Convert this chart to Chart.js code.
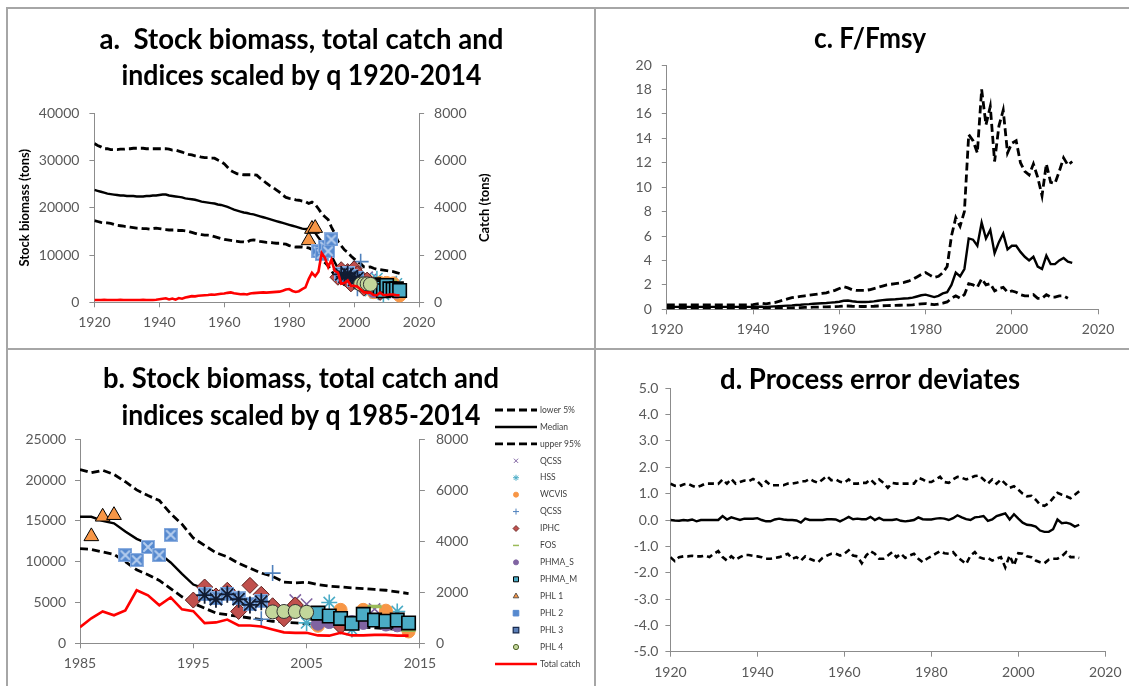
<!DOCTYPE html>
<html>
<head>
<meta charset="utf-8">
<script src="https://cdn.jsdelivr.net/npm/chart.js@4.4.1/dist/chart.umd.min.js"></script>
<style>
  html, body { margin: 0; padding: 0; background: #fff; }
  #page { position: relative; width: 1129px; height: 686px; overflow: hidden; background: #fff; }
  #page canvas { position: absolute; }
  .rule { position: absolute; background: #a6a6a6; }
</style>
</head>
<body>
<div id="page">
  <canvas id="panelA" width="595" height="349" style="left:0px;top:0px"></canvas>
  <canvas id="panelB" width="595" height="337" style="left:0px;top:349px"></canvas>
  <canvas id="panelC" width="534" height="349" style="left:595px;top:0px"></canvas>
  <canvas id="panelD" width="534" height="337" style="left:595px;top:349px"></canvas>
  <div class="rule" style="left:6px;top:7px;width:1123px;height:2px"></div>
  <div class="rule" style="left:6px;top:7px;width:2px;height:679px"></div>
  <div class="rule" style="left:594px;top:7px;width:2px;height:679px"></div>
  <div class="rule" style="left:6px;top:348px;width:1123px;height:2px"></div>
</div>
<script>
// ---------------- data ----------------
const YEARS = [
  1920,1921,1922,1923,1924,1925,1926,1927,1928,1929,
  1930,1931,1932,1933,1934,1935,1936,1937,1938,1939,
  1940,1941,1942,1943,1944,1945,1946,1947,1948,1949,
  1950,1951,1952,1953,1954,1955,1956,1957,1958,1959,
  1960,1961,1962,1963,1964,1965,1966,1967,1968,1969,
  1970,1971,1972,1973,1974,1975,1976,1977,1978,1979,
  1980,1981,1982,1983,1984,1985,1986,1987,1988,1989,
  1990,1991,1992,1993,1994,1995,1996,1997,1998,1999,
  2000,2001,2002,2003,2004,2005,2006,2007,2008,2009,
  2010,2011,2012,2013,2014
];

// Stock biomass (tons)
const BIOMASS_LOWER = [
  17300,17100,16900,16800,16800,16700,16500,16300,16200,16100,
  16000,15900,15800,15700,15700,15600,15600,15500,15600,15700,
  15600,15500,15400,15300,15300,15300,15200,15200,15100,15000,
  14800,14600,14400,14300,14200,14200,14100,13900,13700,13500,
  13300,13200,13100,13000,12900,12800,12800,12700,13100,13200,
  13100,12900,12800,12700,12700,12600,12500,12500,12400,12300,
  12000,11800,11700,11700,11700,11600,11500,11200,10900,10000,
  9000,8400,7700,6700,5700,4900,4300,3700,3500,3300,
  3100,2900,2700,2600,2500,2400,2300,2200,2100,2000,
  2000,1900,1800,1700,1600
];
const BIOMASS_MEDIAN = [
  23800,23600,23400,23200,23000,22900,22800,22700,22600,22600,
  22500,22500,22500,22400,22400,22400,22500,22500,22600,22600,
  22700,22800,22800,22600,22500,22400,22300,22200,22000,21900,
  21800,21700,21500,21300,21200,21100,21000,20900,20700,20600,
  20400,20200,19900,19600,19400,19200,19000,18900,18700,18600,
  18400,18200,18000,17800,17600,17400,17200,17000,16800,16600,
  16400,16200,16000,15800,15600,15500,15500,15000,14700,13700,
  12800,12200,11000,9900,8500,7200,6700,6300,5900,5500,
  5100,4800,4500,4200,4000,3800,3600,3400,3200,3000,
  2900,2800,2700,2600,2500
];
const BIOMASS_UPPER = [
  33600,33200,32900,32500,32500,32300,32300,32300,32400,32400,
  32500,32500,32600,32600,32600,32600,32500,32500,32500,32500,
  32500,32500,32500,32400,32200,32200,32000,31800,31500,31300,
  31200,31000,30900,30700,30600,30600,30500,30500,30100,29800,
  29300,28600,27900,27500,27200,27100,27000,27000,27000,27000,
  26900,26300,25800,25200,24700,24300,23800,23300,22700,22200,
  22000,21900,21700,21600,21400,21300,20900,21200,20700,19800,
  18800,18100,17500,15900,14600,12900,12000,11100,10600,9800,
  9200,8600,8200,7500,7400,7500,7200,7000,6900,6800,
  6700,6600,6500,6300,6100
];
// Total catch (tons)
const TOTAL_CATCH = [
  100,95,100,105,100,95,100,100,105,100,
  100,100,95,100,100,105,100,100,100,110,
  130,150,170,120,160,110,180,150,200,230,
  260,250,280,290,300,310,330,320,340,360,
  370,400,420,380,360,340,350,330,370,390,
  400,410,420,410,420,430,440,450,490,540,
  560,480,440,470,560,630,980,1250,1100,1290,
  2080,1880,1490,1800,1330,1260,790,820,930,700,
  700,660,540,430,410,410,310,300,410,310,
  310,330,330,300,300
];

// Abundance indices scaled by q (tons)
const QCSS_X_YEARS = [2004, 2005, 2011];
const QCSS_X = [5300, 4800, 4200];
const HSS_YEARS = [2005, 2007, 2009, 2013];
const HSS = [2500, 5000, 1700, 3900];
const WCVIS_YEARS = [2004, 2006, 2008, 2010, 2012, 2014];
const WCVIS = [4600, 2150, 4100, 4100, 4000, 1450];
const QCSS_P_YEARS = [2001, 2002];
const QCSS_P = [2950, 8600];
const IPHC_YEARS = [1995, 1996, 1997, 1998, 1999, 2000, 2001, 2002, 2003, 2004, 2008];
const IPHC = [5300, 6900, 5800, 6500, 3900, 7100, 6000, 4600, 3000, 4700, 2100];
const FOS_YEARS = [2011, 2014];
const FOS = [4500, 1600];
const PHMA_S_YEARS = [2006, 2007, 2009, 2010, 2012, 2013];
const PHMA_S = [2400, 2600, 2600, 2500, 2300, 2200];
const PHMA_M_YEARS = [2006, 2007, 2008, 2009, 2010, 2011, 2012, 2013, 2014];
const PHMA_M = [3700, 3350, 3050, 2450, 3550, 2850, 2700, 2850, 2500];
const PHL1_YEARS = [1986, 1987, 1988];
const PHL1 = [13100, 15500, 15700];
const PHL2_YEARS = [1989, 1990, 1991, 1992, 1993, 1996, 1997, 1998, 1999, 2000, 2001];
const PHL2 = [10800, 10200, 11800, 10800, 13300, 6000, 5500, 6100, 5500, 4800, 5200];
const PHL3_YEARS = [1996, 1997, 1998, 1999, 2000, 2001];
const PHL3 = [5900, 5400, 6000, 5400, 4700, 5100];
const PHL4_YEARS = [2002, 2003, 2004, 2005];
const PHL4 = [3850, 3900, 3900, 3800];

// F / Fmsy
const F_LOWER = [
  0.08,0.08,0.08,0.08,0.08,0.08,0.08,0.08,0.08,0.08,
  0.08,0.08,0.08,0.08,0.08,0.08,0.08,0.08,0.08,0.08,
  0.08,0.08,0.08,0.07,0.08,0.09,0.10,0.10,0.11,0.12,
  0.13,0.14,0.15,0.16,0.17,0.18,0.19,0.20,0.21,0.22,
  0.24,0.27,0.27,0.25,0.24,0.23,0.23,0.24,0.25,0.27,
  0.29,0.30,0.31,0.32,0.33,0.34,0.35,0.37,0.40,0.44,
  0.47,0.42,0.38,0.42,0.50,0.60,0.90,1.10,0.90,1.20,
  2.1,2.0,1.8,2.5,2.0,2.1,1.5,1.7,1.8,1.4,
  1.5,1.4,1.2,1.1,1.1,1.2,0.9,0.9,1.2,1.0,
  1.0,1.1,1.1,0.9,null
];
const F_MEDIAN = [
  0.20,0.20,0.20,0.20,0.20,0.20,0.20,0.20,0.20,0.20,
  0.20,0.20,0.20,0.20,0.20,0.20,0.20,0.20,0.20,0.20,
  0.20,0.21,0.22,0.20,0.22,0.24,0.26,0.28,0.30,0.32,
  0.35,0.37,0.40,0.42,0.45,0.48,0.50,0.52,0.55,0.58,
  0.62,0.70,0.72,0.66,0.62,0.60,0.60,0.62,0.65,0.70,
  0.75,0.78,0.80,0.82,0.85,0.88,0.90,0.95,1.05,1.15,
  1.20,1.10,1.00,1.10,1.30,1.40,2.00,3.00,2.70,3.30,
  5.8,5.7,5.2,7.1,5.8,6.5,4.6,5.5,6.2,4.9,
  5.2,5.2,4.7,4.3,4.0,4.3,3.5,3.3,4.4,3.7,
  3.7,4.0,4.2,3.9,3.8
];
const F_UPPER = [
  0.35,0.35,0.35,0.35,0.35,0.35,0.35,0.35,0.35,0.35,
  0.35,0.35,0.35,0.35,0.35,0.35,0.35,0.35,0.35,0.35,
  0.38,0.45,0.50,0.45,0.50,0.55,0.65,0.75,0.85,0.95,
  1.00,1.05,1.10,1.15,1.20,1.25,1.30,1.35,1.45,1.55,
  1.70,1.85,1.75,1.60,1.55,1.55,1.55,1.60,1.70,1.80,
  1.90,2.00,2.05,2.10,2.15,2.20,2.30,2.45,2.65,2.85,
  3.00,2.80,2.60,2.70,3.00,3.50,6.00,7.50,6.80,8.00,
  14.3,13.8,12.8,18.0,15.1,16.6,12.1,15.0,16.3,12.8,
  13.6,13.8,12.0,11.3,11.0,11.9,10.8,9.3,11.9,10.4,
  10.3,11.3,12.4,11.8,12.1
];

// Process error deviates
const PE_LOWER = [
  -1.41,-1.56,-1.41,-1.38,-1.38,-1.36,-1.38,-1.38,-1.35,-1.41,
  -1.28,-1.18,-1.41,-1.54,-1.38,-1.51,-1.41,-1.33,-1.33,-1.36,
  -1.38,-1.41,-1.47,-1.47,-1.44,-1.41,-1.35,-1.28,-1.47,-1.41,
  -1.54,-1.38,-1.47,-1.54,-1.60,-1.44,-1.35,-1.28,-1.28,-1.35,
  -1.28,-1.15,-1.35,-1.38,-1.64,-1.35,-1.18,-1.28,-1.47,-1.47,
  -1.35,-1.22,-1.41,-1.28,-1.44,-1.35,-1.28,-1.47,-1.60,-1.47,
  -1.38,-1.28,-1.18,-1.26,-1.28,-1.22,-1.41,-1.54,-1.67,-1.35,
  -1.22,-1.41,-1.47,-1.44,-1.54,-1.47,-1.41,-1.80,-1.35,-1.73,
  -1.26,-1.28,-1.38,-1.41,-1.54,-1.60,-1.64,-1.51,-1.47,-1.47,
  -1.38,-1.22,-1.41,-1.41,-1.44
];
const PE_MEDIAN = [
  0.00,-0.02,-0.03,0.00,-0.02,0.02,-0.05,0.00,0.00,0.00,
  0.00,0.00,0.15,0.02,0.10,0.05,0.00,0.05,0.05,0.05,
  0.07,0.00,-0.05,-0.05,0.02,0.05,0.02,0.00,0.00,-0.02,
  -0.10,0.05,0.00,0.00,0.00,0.00,0.03,0.03,0.02,-0.05,
  0.03,0.12,0.03,0.05,0.03,0.03,0.12,0.00,0.08,0.00,
  0.00,0.00,0.03,-0.03,-0.05,-0.03,0.00,0.10,0.03,0.02,
  0.02,0.05,0.07,0.05,0.00,0.07,0.18,0.10,0.03,0.00,
  0.10,0.12,0.15,-0.03,0.02,0.15,0.20,0.25,0.02,0.22,
  0.05,-0.10,-0.18,-0.20,-0.25,-0.40,-0.45,-0.45,-0.35,0.02,
  -0.12,-0.10,-0.15,-0.25,-0.18
];
const PE_UPPER = [
  1.38,1.30,1.28,1.35,1.38,1.30,1.24,1.30,1.38,1.38,
  1.38,1.37,1.54,1.38,1.56,1.38,1.44,1.50,1.47,1.56,
  1.47,1.30,1.47,1.32,1.32,1.32,1.32,1.38,1.38,1.41,
  1.47,1.47,1.56,1.47,1.41,1.54,1.67,1.51,1.54,1.45,
  1.41,1.54,1.38,1.38,1.41,1.41,1.54,1.38,1.54,1.41,
  1.22,1.41,1.38,1.38,1.38,1.38,1.38,1.60,1.54,1.44,
  1.44,1.54,1.64,1.44,1.41,1.54,1.64,1.60,1.54,1.60,
  1.67,1.69,1.54,1.38,1.54,1.38,1.54,1.38,1.22,1.28,
  1.15,1.00,0.90,0.92,0.77,0.58,0.54,0.64,0.83,1.03,
  0.96,0.90,0.83,0.96,1.09
];

// Axis tick settings
const X_TICKS_LONG = { min: 1920, max: 2020, step: 20 };
const X_TICKS_SHORT = { min: 1985, max: 2015, step: 10 };
const BIOMASS_TICKS_A = { min: 0, max: 40000, step: 10000 };
const BIOMASS_TICKS_B = { min: 0, max: 25000, step: 5000 };
const CATCH_TICKS = { min: 0, max: 8000, step: 2000 };
const F_TICKS = { min: 0, max: 20, step: 2 };
const PE_TICKS = { min: -5, max: 5, step: 1 };

// ---------------- styling helpers ----------------
const AXIS_COLOR = '#8c8c8c';
const LABEL_COLOR = '#595959';
const FONT_FAMILY = 'Lato, "Open Sans", sans-serif';
const TICK_FONT = { family: FONT_FAMILY, size: 14 };

function pairs(xs, ys, from) {
  const out = [];
  xs.forEach((x, i) => { if (from == null || x >= from) out.push({ x: x, y: ys[i] }); });
  return out;
}

function scale(position, t, size, pad, fmt) {
  return {
    type: 'linear',
    position: position,
    min: t.min, max: t.max,
    afterFit: function (s) {
      if (position === 'bottom') s.height = size; else s.width = size;
    },
    ticks: {
      stepSize: t.step, autoSkip: false, maxRotation: 0, minRotation: 0,
      color: LABEL_COLOR, font: TICK_FONT, padding: pad,
      callback: fmt || function (v) { return String(v); }
    },
    grid: { display: true, drawOnChartArea: false, drawTicks: true, tickLength: 5,
            color: AXIS_COLOR, tickColor: AXIS_COLOR, lineWidth: 1 },
    border: { display: true, color: AXIS_COLOR, width: 1 }
  };
}

function lineSet(label, data, color, width, dash, axisId) {
  return {
    label: label, data: data, showLine: true, fill: false, tension: 0,
    borderColor: color, backgroundColor: color, borderWidth: width,
    borderDash: dash || [], pointRadius: 0, pointHoverRadius: 0,
    yAxisID: axisId || 'y', spanGaps: true
  };
}

function markerSet(label, data, m, legendIcon) {
  return {
    label: label, data: data, showLine: false, yAxisID: 'y',
    pointStyle: m.style, pointRadius: m.radius, pointHoverRadius: m.radius,
    pointBackgroundColor: m.fill || 'rgba(0,0,0,0)',
    pointBorderColor: m.stroke || m.fill, pointBorderWidth: m.width || 1,
    borderColor: m.stroke || m.fill, backgroundColor: m.fill || 'rgba(0,0,0,0)',
    legendIcon: legendIcon, clip: 12
  };
}

// blue square carrying a pale diagonal cross
function crossedSquare(size, fill, edge, cross) {
  const c = document.createElement('canvas');
  c.width = size; c.height = size;
  const g = c.getContext('2d');
  g.fillStyle = fill; g.fillRect(0, 0, size, size);
  g.strokeStyle = edge; g.lineWidth = 1; g.strokeRect(0.5, 0.5, size - 1, size - 1);
  g.strokeStyle = cross; g.lineWidth = 2; g.lineCap = 'round';
  g.beginPath();
  g.moveTo(3, 3); g.lineTo(size - 3, size - 3);
  g.moveTo(size - 3, 3); g.lineTo(3, size - 3);
  g.stroke();
  return c;
}

function drawIcon(ctx, m, x, y) {
  const r = m.radius;
  ctx.save();
  ctx.lineWidth = m.width || 1;
  ctx.fillStyle = m.fill || 'rgba(0,0,0,0)';
  ctx.strokeStyle = m.stroke || m.fill;
  ctx.beginPath();
  const d = r * Math.SQRT1_2;
  switch (m.style) {
    case 'circle': ctx.arc(x, y, r, 0, Math.PI * 2); break;
    case 'rect': ctx.rect(x - r, y - r, 2 * r, 2 * r); break;
    case 'rectRot':
      ctx.moveTo(x - r, y); ctx.lineTo(x, y - r); ctx.lineTo(x + r, y); ctx.lineTo(x, y + r); ctx.closePath(); break;
    case 'triangle':
      ctx.moveTo(x, y - r); ctx.lineTo(x + r * 0.866, y + r * 0.5); ctx.lineTo(x - r * 0.866, y + r * 0.5); ctx.closePath(); break;
    case 'cross':
      ctx.moveTo(x - r, y); ctx.lineTo(x + r, y); ctx.moveTo(x, y - r); ctx.lineTo(x, y + r); break;
    case 'crossRot':
      ctx.moveTo(x - d, y - d); ctx.lineTo(x + d, y + d); ctx.moveTo(x + d, y - d); ctx.lineTo(x - d, y + d); break;
    case 'star':
      ctx.moveTo(x - r, y); ctx.lineTo(x + r, y); ctx.moveTo(x, y - r); ctx.lineTo(x, y + r);
      ctx.moveTo(x - d, y - d); ctx.lineTo(x + d, y + d); ctx.moveTo(x + d, y - d); ctx.lineTo(x - d, y + d); break;
    case 'line':
      ctx.moveTo(x - r, y); ctx.lineTo(x + r, y); break;
  }
  if (m.fill && ['circle', 'rect', 'rectRot', 'triangle'].indexOf(m.style) >= 0) ctx.fill();
  ctx.stroke();
  ctx.restore();
}

// free text: titles and axis titles
const panelText = {
  id: 'panelText',
  afterDraw(chart, args, opts) {
    const ctx = chart.ctx;
    (opts.items || []).forEach(function (t) {
      ctx.save();
      ctx.font = t.font;
      ctx.fillStyle = t.color || '#000';
      ctx.textAlign = 'center';
      ctx.textBaseline = t.baseline || 'alphabetic';
      ctx.translate(t.x, t.y);
      if (t.rotate) ctx.rotate(t.rotate);
      if (t.maxWidth) ctx.fillText(t.text, 0, 0, t.maxWidth); else ctx.fillText(t.text, 0, 0);
      ctx.restore();
    });
  }
};

// stacked legend beside panel b
const sideLegend = {
  id: 'sideLegend',
  afterDraw(chart, args, o) {
    if (!o || !o.display) return;
    const ctx = chart.ctx;
    chart.data.datasets.forEach(function (ds, i) {
      const y = o.top + i * o.rowGap;
      ctx.save();
      if (ds.showLine) {
        ctx.strokeStyle = ds.borderColor;
        ctx.lineWidth = ds.borderWidth;
        ctx.setLineDash(ds.borderDash || []);
        ctx.beginPath(); ctx.moveTo(o.lineX0, y); ctx.lineTo(o.lineX1, y); ctx.stroke();
        ctx.setLineDash([]);
      } else if (ds.legendIcon) {
        drawIcon(ctx, ds.legendIcon, o.markerX, y);
      }
      ctx.font = o.font;
      ctx.fillStyle = o.color;
      ctx.textAlign = 'left';
      ctx.textBaseline = 'middle';
      ctx.fillText(ds.label, o.textX, y);
      ctx.restore();
    });
  }
};

// ---------------- stock biomass panels ----------------
const PHL2_MARK = crossedSquare(14, '#5689cf', '#8fb0e0', '#b5cdee');

function biomassDatasets(from) {
  const sets = [
    lineSet('lower 5%', pairs(YEARS, BIOMASS_LOWER, from), '#000', 2.8, [8, 4]),
    lineSet('Median', pairs(YEARS, BIOMASS_MEDIAN, from), '#000', 2.4),
    lineSet('upper 95%', pairs(YEARS, BIOMASS_UPPER, from), '#000', 2.8, [8, 4]),
    markerSet('QCSS', pairs(QCSS_X_YEARS, QCSS_X), { style: 'crossRot', radius: 8, stroke: '#8064a2', width: 1.6 },
              { style: 'crossRot', radius: 3, stroke: '#8064a2', width: 1 }),
    markerSet('HSS', pairs(HSS_YEARS, HSS), { style: 'star', radius: 8, stroke: '#4bacc6', width: 1.6 },
              { style: 'star', radius: 3, stroke: '#4bacc6', width: 1 }),
    markerSet('WCVIS', pairs(WCVIS_YEARS, WCVIS), { style: 'circle', radius: 6.5, fill: '#f79646', stroke: '#f79646', width: 1 },
              { style: 'circle', radius: 2.5, fill: '#f79646', stroke: '#f79646', width: 1 }),
    markerSet('QCSS', pairs(QCSS_P_YEARS, QCSS_P), { style: 'cross', radius: 8, stroke: '#4f81bd', width: 1.6 },
              { style: 'cross', radius: 3, stroke: '#4f81bd', width: 1 }),
    markerSet('IPHC', pairs(IPHC_YEARS, IPHC), { style: 'rectRot', radius: 8, fill: '#c0504d', stroke: '#5e1f1d', width: 1 },
              { style: 'rectRot', radius: 3, fill: '#c0504d', stroke: '#5e1f1d', width: 0.8 }),
    markerSet('FOS', pairs(FOS_YEARS, FOS), { style: 'line', radius: 7, stroke: '#9bbb59', width: 3.5 },
              { style: 'line', radius: 3, stroke: '#9bbb59', width: 1.5 }),
    markerSet('PHMA_S', pairs(PHMA_S_YEARS, PHMA_S), { style: 'circle', radius: 6.5, fill: '#8064a2', stroke: '#8064a2', width: 1 },
              { style: 'circle', radius: 2.5, fill: '#8064a2', stroke: '#8064a2', width: 1 }),
    markerSet('PHMA_M', pairs(PHMA_M_YEARS, PHMA_M), { style: 'rect', radius: 9.5, fill: '#4bacc6', stroke: '#000', width: 1.6 },
              { style: 'rect', radius: 2.5, fill: '#4bacc6', stroke: '#000', width: 1 }),
    markerSet('PHL 1', pairs(PHL1_YEARS, PHL1), { style: 'triangle', radius: 8.5, fill: '#f79646', stroke: '#000', width: 1 },
              { style: 'triangle', radius: 3.2, fill: '#f79646', stroke: '#3a3a3a', width: 0.8 }),
    markerSet('PHL 2', pairs(PHL2_YEARS, PHL2), { style: PHL2_MARK, radius: 7 },
              { style: 'rect', radius: 2.8, fill: '#5689cf', stroke: '#5689cf', width: 1 }),
    markerSet('PHL 3', pairs(PHL3_YEARS, PHL3), { style: 'star', radius: 8.5, stroke: '#111c33', width: 1.8 },
              { style: 'rect', radius: 2.8, fill: '#5b7fb8', stroke: '#17294d', width: 1.2 }),
    markerSet('PHL 4', pairs(PHL4_YEARS, PHL4), { style: 'circle', radius: 7, fill: '#c3d69b', stroke: '#333', width: 1 },
              { style: 'circle', radius: 2.6, fill: '#c3d69b', stroke: '#4f6228', width: 1 }),
    lineSet('Total catch', pairs(YEARS, TOTAL_CATCH, from), '#ff0000', 2.6, null, 'y1')
  ];
  const n = sets.length;
  sets.forEach(function (ds, i) { ds.order = n - i; });
  return sets;
}

function makeChart(id, datasets, scales, padding, textItems, legendOpts) {
  return new Chart(document.getElementById(id), {
    type: 'line',
    data: { datasets: datasets },
    options: {
      responsive: false, animation: false, events: [],
      layout: { padding: padding, autoPadding: false },
      scales: scales,
      plugins: {
        legend: { display: false }, tooltip: { enabled: false }, title: { display: false },
        panelText: { items: textItems },
        sideLegend: legendOpts || { display: false }
      }
    },
    plugins: [panelText, sideLegend]
  });
}

const TITLE_FONT = 'bold 28px ' + FONT_FAMILY;
const AXIS_TITLE_FONT = 'bold 13px ' + FONT_FAMILY;

// a. whole series
makeChart('panelA', biomassDatasets(null), {
  x: scale('bottom', X_TICKS_LONG, 46.7, 7),
  y: scale('left', BIOMASS_TICKS_A, 94.4, 10),
  y1: scale('right', CATCH_TICKS, 175.9, 10)
}, { top: 113.3, left: 0, right: 0, bottom: 0 }, [
  { text: 'a.  Stock biomass, total catch and', x: 301.5, y: 48.5, font: TITLE_FONT, maxWidth: 404 },
  { text: 'indices scaled by q 1920-2014', x: 301.5, y: 85, font: TITLE_FONT, maxWidth: 360 },
  { text: 'Stock biomass (tons)', x: 25, y: 207.8, rotate: -Math.PI / 2, font: AXIS_TITLE_FONT, baseline: 'middle' },
  { text: 'Catch (tons)', x: 484.7, y: 207.8, rotate: -Math.PI / 2, font: AXIS_TITLE_FONT, baseline: 'middle' }
]);

// b. recent years
makeChart('panelB', biomassDatasets(1985), {
  x: scale('bottom', X_TICKS_SHORT, 42.7, 7),
  y: scale('left', BIOMASS_TICKS_B, 80, 9),
  y1: scale('right', CATCH_TICKS, 175.1, 11)
}, { top: 90.3, left: 0, right: 0, bottom: 0 }, [
  { text: 'b. Stock biomass, total catch and', x: 301, y: 39.3, font: TITLE_FONT, maxWidth: 396 },
  { text: 'indices scaled by q 1985-2014', x: 301, y: 76, font: TITLE_FONT, maxWidth: 359 }
], {
  display: true, top: 61, rowGap: 16.93, lineX0: 495, lineX1: 537, markerX: 516, textX: 540,
  font: '8.5px ' + FONT_FAMILY, color: '#404040'
});

// c. fishing mortality relative to Fmsy
makeChart('panelC', [
  lineSet('lower 5%', pairs(YEARS, F_LOWER), '#000', 2.8, [8, 4]),
  lineSet('Median', pairs(YEARS, F_MEDIAN), '#000', 2.4),
  lineSet('upper 95%', pairs(YEARS, F_UPPER), '#000', 2.8, [8, 4])
], {
  x: scale('bottom', X_TICKS_LONG, 39.7, 7),
  y: scale('left', F_TICKS, 71.8, 10)
}, { top: 65, left: 0, right: 30.9, bottom: 0 }, [
  { text: 'c. F/Fmsy', x: 275, y: 47.7, font: TITLE_FONT, maxWidth: 112 }
]);

// d. process error
makeChart('panelD', [
  lineSet('lower 5%', pairs(YEARS, PE_LOWER), '#000', 2.6, [6, 4]),
  lineSet('Median', pairs(YEARS, PE_MEDIAN), '#000', 2.4),
  lineSet('upper 95%', pairs(YEARS, PE_UPPER), '#000', 2.6, [6, 4])
], {
  x: scale('bottom', X_TICKS_LONG, 34.3, 7),
  y: scale('left', PE_TICKS, 75.4, 7, function (v) { return Number(v).toFixed(1); })
}, { top: 39.3, left: 0, right: 23.7, bottom: 0 }, [
  { text: 'd. Process error deviates', x: 275, y: 40, font: TITLE_FONT, maxWidth: 300 }
]);
</script>
</body>
</html>
